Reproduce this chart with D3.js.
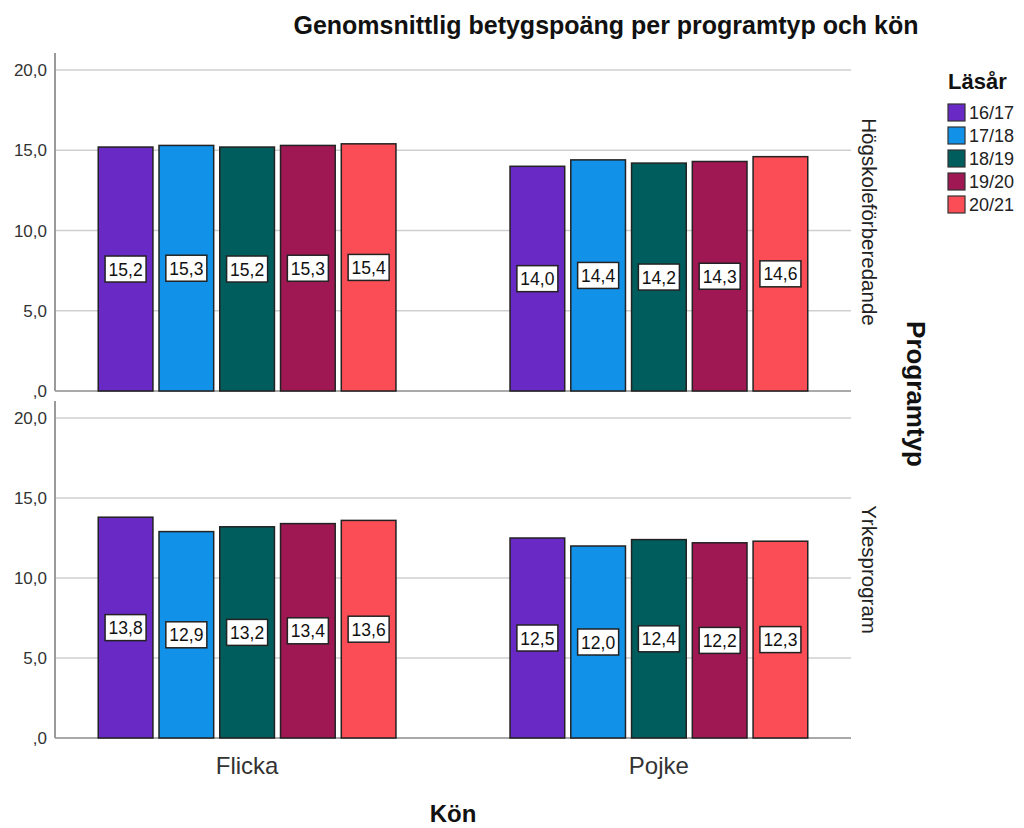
<!DOCTYPE html>
<html>
<head>
<meta charset="utf-8">
<script src="https://cdn.jsdelivr.net/npm/d3@7"></script>
<style>
  html, body { margin: 0; padding: 0; background: #fff; }
  svg { display: block; font-family: "Liberation Sans", Arial, sans-serif; }
</style>
</head>
<body>
<svg id="chart" width="1024" height="828"></svg>
<script>
const genders = ["Flicka", "Pojke"];
const programs = ["Högskoleförberedande", "Yrkesprogram"];
const years = ["16/17", "17/18", "18/19", "19/20", "20/21"];
const colors = ["#6929c4", "#1192e8", "#005d5d", "#9f1853", "#fa4d56"];
const yTicks = [0, 5, 10, 15, 20];
// values per program, per gender, per year
const hogFlicka = [15.2, 15.3, 15.2, 15.3, 15.4];
const hogPojke  = [14.0, 14.4, 14.2, 14.3, 14.6];
const yrkFlicka = [13.8, 12.9, 13.2, 13.4, 13.6];
const yrkPojke  = [12.5, 12.0, 12.4, 12.2, 12.3];

const panelValues = [
  [hogFlicka, hogPojke],
  [yrkFlicka, yrkPojke]
];

const svg = d3.select("#chart");
const left = 55, right = 851;
const panels = [
  { top: 53, y20: 70, y0: 391 },
  { top: 401, y20: 418, y0: 738 }
];

const x0 = d3.scaleBand().domain(genders).range([left, right]).paddingInner(0.277).paddingOuter(0.105);
const x1 = d3.scaleBand().domain(years).range([0, x0.bandwidth()]).paddingInner(0.1).paddingOuter(0);
const color = d3.scaleOrdinal().domain(years).range(colors);
const fmt = v => v === 0 ? ",0" : d3.format(".1f")(v).replace(".", ",");

panels.forEach((p, pi) => {
  const y = d3.scaleLinear().domain([0, 20]).range([p.y0, p.y20]);
  const g = svg.append("g");
  // gridlines
  g.selectAll("line.grid").data(yTicks.filter(d => d > 0)).enter().append("line")
    .attr("x1", left).attr("x2", right)
    .attr("y1", d => y(d)).attr("y2", d => y(d))
    .attr("stroke", "#cfcfcf").attr("stroke-width", 1.5);
  // baseline
  g.append("line").attr("x1", left).attr("x2", right)
    .attr("y1", y(0)).attr("y2", y(0))
    .attr("stroke", "#8c8c8c").attr("stroke-width", 1.5);
  // y axis line
  g.append("line").attr("x1", left).attr("x2", left)
    .attr("y1", p.top).attr("y2", y(0))
    .attr("stroke", "#9a9a9a").attr("stroke-width", 2);
  // tick labels
  g.selectAll("text.tick").data(yTicks).enter().append("text")
    .attr("x", left - 8).attr("y", d => y(d) + 6)
    .attr("text-anchor", "end")
    .attr("font-size", 17).attr("fill", "#333")
    .text(fmt);

  // bars
  genders.forEach((gen, gi) => {
    const vals = panelValues[pi][gi];
    const gg = g.append("g").attr("transform", `translate(${x0(gen)},0)`);
    gg.selectAll("rect").data(years.map((yr, i) => ({ yr, v: vals[i] }))).enter().append("rect")
      .attr("x", d => x1(d.yr)).attr("width", x1.bandwidth())
      .attr("y", d => y(d.v)).attr("height", d => y(0) - y(d.v))
      .attr("fill", d => color(d.yr))
      .attr("stroke", "#222").attr("stroke-width", 1.5);
    const lbl = gg.selectAll("g.lbl").data(years.map((yr, i) => ({ yr, v: vals[i] }))).enter().append("g")
      .attr("transform", d => `translate(${x1(d.yr) + x1.bandwidth() / 2},${(y(d.v) + y(0)) / 2})`);
    lbl.append("rect").attr("x", -20.5).attr("y", -13).attr("width", 41).attr("height", 26)
      .attr("fill", "#fff").attr("stroke", "#222").attr("stroke-width", 1.5);
    lbl.append("text").attr("text-anchor", "middle").attr("y", 6.5)
      .attr("font-size", 17.5).attr("fill", "#111")
      .text(d => fmt(d.v));
  });

  // panel label (rotated clockwise)
  svg.append("text")
    .attr("transform", `translate(862,${(p.top + p.y0) / 2}) rotate(90)`)
    .attr("text-anchor", "middle").attr("font-size", 20.5).attr("fill", "#222")
    .text(programs[pi]);
});

// x category labels
svg.selectAll("text.cat").data(genders).enter().append("text")
  .attr("x", d => x0(d) + x0.bandwidth() / 2).attr("y", 774)
  .attr("text-anchor", "middle").attr("font-size", 24).attr("fill", "#333")
  .text(d => d);

// axis titles
svg.append("text").attr("x", 453).attr("y", 822).attr("text-anchor", "middle")
  .attr("font-size", 24).attr("font-weight", "bold").attr("fill", "#111").text("Kön");
svg.append("text").attr("transform", "translate(907,394) rotate(90)")
  .attr("text-anchor", "middle").attr("font-size", 26).attr("font-weight", "bold").attr("fill", "#111")
  .text("Programtyp");

// title
svg.append("text").attr("x", 606).attr("y", 34).attr("text-anchor", "middle")
  .attr("font-size", 25).attr("font-weight", "bold").attr("fill", "#111")
  .text("Genomsnittlig betygspoäng per programtyp och kön");

// legend
const leg = svg.append("g");
leg.append("text").attr("x", 948).attr("y", 89).attr("font-size", 22).attr("font-weight", "bold").attr("fill", "#111").text("Läsår");
const items = leg.selectAll("g.item").data(years).enter().append("g")
  .attr("transform", (d, i) => `translate(948,${104 + i * 23})`);
items.append("rect").attr("width", 17).attr("height", 17)
  .attr("fill", d => color(d)).attr("stroke", "#333").attr("stroke-width", 1.2);
items.append("text").attr("x", 21).attr("y", 15).attr("font-size", 18).attr("fill", "#222").text(d => d);
</script>
</body>
</html>
